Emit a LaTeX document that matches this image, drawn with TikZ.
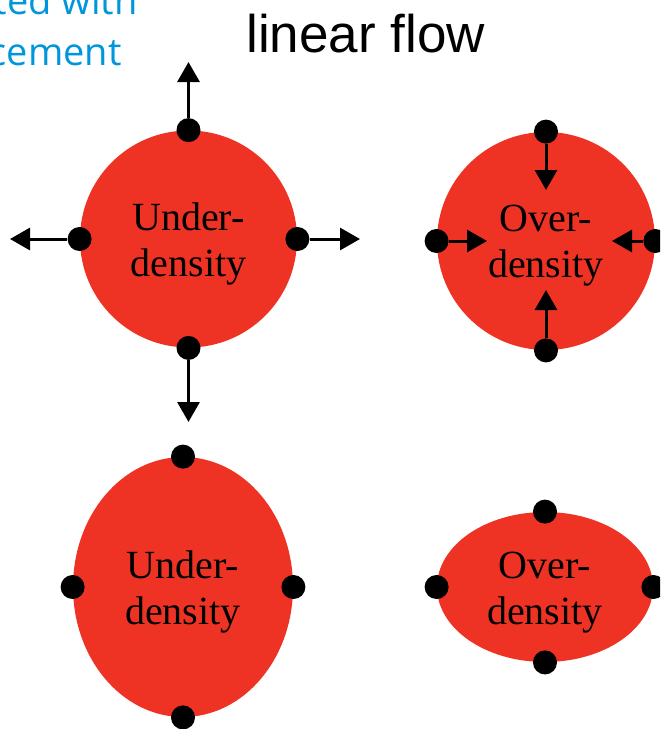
\documentclass[tikz,border=0pt]{standalone}
\usepackage{fontspec}
\setmainfont{Liberation Serif}
\newfontfamily\titlefont{Liberation Sans}
\newfontfamily\notefont{Open Sans}
\usepackage{tikz}
\usetikzlibrary{arrows.meta,shapes.geometric}
\definecolor{blobred}{RGB}{238,51,36}
\definecolor{noteblue}{RGB}{0,150,219}

\begin{document}
\begin{tikzpicture}[x=0.5pt,y=-0.5pt,
	blob/.style={fill=blobred,draw=none,inner sep=0pt},
	word/.style={align=center,inner sep=0pt,font=\fontsize{20}{23}\selectfont},
	dot/.style={circle,fill=black,inner sep=0pt,minimum size=12pt},
	flow/.style={-{Triangle[length=10pt,width=11pt]},line width=1.5pt},
	note/.style={anchor=base east,inner sep=0pt,text=noteblue,font=\notefont\fontsize{19}{22}\selectfont}]
	\useasboundingbox (0,0) rectangle (660,729);
	\clip (0,0) rectangle (660,729);

	\node[note] (note1) at (138,14) {ted with};
	\node[note] (note2) at (122,65) {cement};
	\node[anchor=base west,inner sep=0pt,font=\titlefont\fontsize{26.5}{30}\selectfont] (title) at (246,52) {linear flow};

	% linear flow: under- and over-density
	\node[blob,circle,minimum size=108.5pt] (under1) at (188.5,239) {};
	\node[word] (under1-txt) at ([yshift=-2.5pt]under1.center) {Under-\\density};
	\node[blob,circle,minimum size=109pt] (over1) at (546,241) {};
	\node[word] (over1-txt) at ([yshift=-2.5pt]over1.center) {Over-\\density};

	\node[dot] (u1n) at (under1.north) {};
	\node[dot] (u1w) at (under1.west) {};
	\node[dot] (u1e) at (under1.east) {};
	\node[dot] (u1s) at (under1.south) {};
	\coordinate (u1n-to) at (188.5,62);
	\coordinate (u1w-to) at (10,239);
	\coordinate (u1e-to) at (360,239);
	\coordinate (u1s-to) at (188.5,422);
	\draw[flow] (u1n) -- (u1n-to);
	\draw[flow] (u1w) -- (u1w-to);
	\draw[flow] (u1e) -- (u1e-to);
	\draw[flow] (u1s) -- (u1s-to);

	\node[dot] (o1n) at (over1.north) {};
	\node[dot] (o1w) at (over1.west) {};
	\node[dot] (o1e) at (over1.east) {};
	\node[dot] (o1s) at (over1.south) {};
	\coordinate (o1n-to) at (546,190);
	\coordinate (o1w-to) at (487,241);
	\coordinate (o1e-to) at (612,241);
	\coordinate (o1s-to) at (546,290);
	\draw[flow] (o1n) -- (o1n-to);
	\draw[flow] (o1w) -- (o1w-to);
	\draw[flow] (o1e) -- (o1e-to);
	\draw[flow] (o1s) -- (o1s-to);

	% after the flow: stretched and squeezed
	\node[blob,ellipse,minimum width=110pt,minimum height=130pt] (under2) at (183,587) {};
	\node[word] (under2-txt) at ([yshift=-2.5pt]under2.center) {Under-\\density};
	\node[blob,ellipse,minimum width=108pt,minimum height=75pt] (over2) at (545,587) {};
	\node[word] (over2-txt) at ([yshift=-3pt]over2.center) {Over-\\density};

	\node[dot] (u2n) at (under2.north) {};
	\node[dot] (u2w) at (under2.west) {};
	\node[dot] (u2e) at (under2.east) {};
	\node[dot] (u2s) at (under2.south) {};
	\node[dot] (o2n) at (over2.north) {};
	\node[dot] (o2w) at (over2.west) {};
	\node[dot] (o2e) at (over2.east) {};
	\node[dot] (o2s) at (over2.south) {};
\end{tikzpicture}
\end{document}
